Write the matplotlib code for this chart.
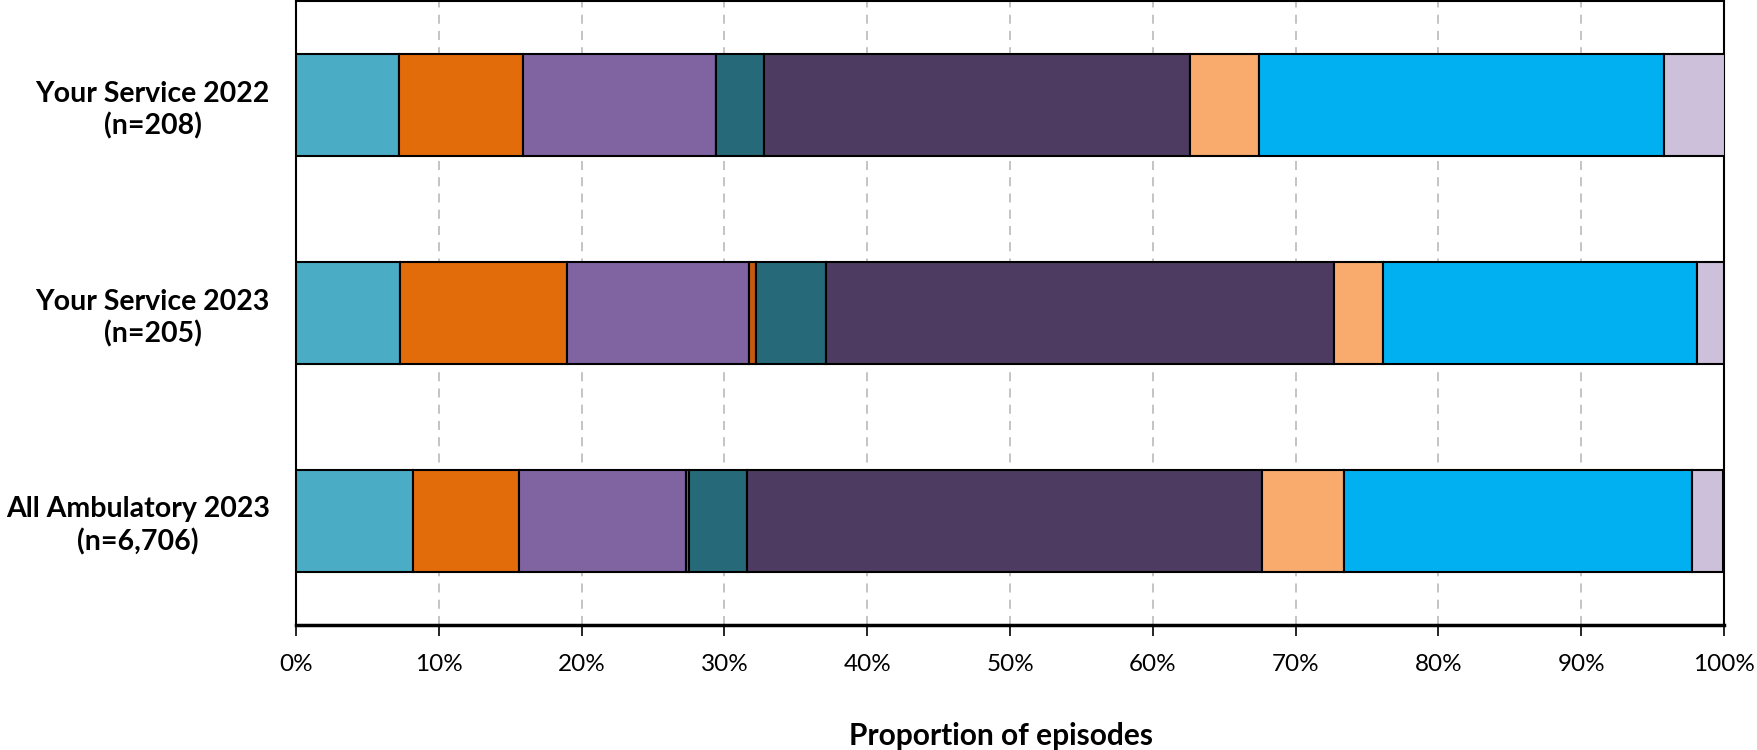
import numpy as np
import matplotlib
matplotlib.use('Agg')
import matplotlib.pyplot as plt
from matplotlib.ticker import PercentFormatter

# Groups (top to bottom)
groups = ['Your Service 2022\n(n=208)', 'Your Service 2023\n(n=205)', 'All Ambulatory 2023\n(n=6,706)']

# Segment shares (%) per category, one value per group
cat1 = [7.2, 7.3, 8.2]
cat2 = [8.7, 11.7, 7.4]
cat3 = [13.5, 12.7, 11.7]
cat4 = [0.0, 0.5, 0.25]
cat5 = [3.4, 4.9, 4.0]
cat6 = [29.8, 35.6, 36.1]
cat7 = [4.8, 3.4, 5.7]
cat8 = [28.4, 22.0, 24.4]
cat9 = [4.3, 1.9, 2.2]

series = [cat1, cat2, cat3, cat4, cat5, cat6, cat7, cat8, cat9]
colors = ['#4BACC6', '#E36C0A', '#8064A2', '#C55A11', '#266A7A',
          '#4E3B62', '#F8AB6C', '#00B0F0', '#CCC0DA']

plt.rcParams['font.family'] = ['Lato', 'DejaVu Sans']

fig = plt.figure(figsize=(17.58, 7.5), dpi=100)
ax = fig.add_axes([0.1684, 0.1673, 0.8123, 0.8317])

y = np.arange(len(groups))
left = np.zeros(len(groups))
for vals, col in zip(series, colors):
    vals = np.array(vals)
    ax.barh(y, vals, left=left, height=0.49, color=col,
            edgecolor='black', linewidth=1.5, zorder=3)
    left += vals

ax.set_xlim(0, 100)
ax.set_ylim(2.5, -0.5)
ax.set_yticks(y)
ax.set_yticklabels(groups, fontsize=20.5, fontweight='bold', ha='right',
                   multialignment='center', linespacing=1.25)
ax.tick_params(axis='y', length=0, pad=19)
ax.set_xticks(np.arange(0, 101, 10))
ax.xaxis.set_major_formatter(PercentFormatter(decimals=0))
ax.tick_params(axis='x', labelsize=17.5, length=8, width=1.2, pad=13)

ax.grid(axis='x', color='#BFBFBF', linestyle=(0, (5, 4)), linewidth=1.3, zorder=0)
for s in ax.spines.values():
    s.set_color('black')
    s.set_linewidth(1.5)
ax.spines['bottom'].set_linewidth(2.5)

ax.set_xlabel('Proportion of episodes', fontsize=21.5, fontweight='bold', labelpad=34)
ax.xaxis.label.set_x(0.4937)

fig.savefig('out.png', dpi=100)
